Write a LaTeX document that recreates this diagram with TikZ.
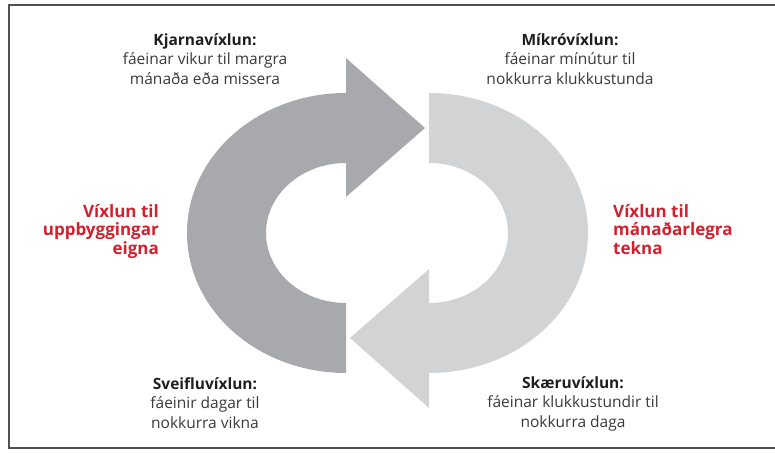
\documentclass[tikz,border=0pt]{standalone}
\usepackage{fontspec}
\setmainfont{Open Sans}
\definecolor{darkarrow}{HTML}{A7A9AC}
\definecolor{lightarrow}{HTML}{D1D3D4}
\definecolor{redtxt}{HTML}{D2202F}
\definecolor{bodytxt}{HTML}{3A3A3A}
\definecolor{headtxt}{HTML}{1E1E1E}
\definecolor{framecol}{HTML}{505050}
\tikzset{
  bodyblock/.style={inner sep=0pt, align=center, text=bodytxt,
    font=\fontsize{15.5}{19.5}\selectfont},
  redblock/.style={inner sep=0pt, text=redtxt,
    font=\fontsize{17}{18.5}\selectfont\bfseries},
}
\newcommand{\hd}[1]{\textcolor{headtxt}{\bfseries #1}}
\begin{document}
\begin{tikzpicture}[x=1pt,y=1pt]
\useasboundingbox (0,0) rectangle (775,454);
% frame (open on the right)
\draw[framecol, line width=2pt] (775,449) -- (8.5,449) -- (8.5,6) -- (775,6);
% dark arrow (left half, pointing right at the top)
\fill[darkarrow] (346,81) arc[start angle=270, end angle=90, x radius=159, y radius=140]
  -- (346,396) -- (425,326) -- (346,257) -- (346,291)
  arc[start angle=90, end angle=270, x radius=80, y radius=70] -- cycle;
% light arrow (right half, pointing left at the bottom)
\fill[lightarrow] (429,361) arc[start angle=90, end angle=-90, x radius=159, y radius=140]
  -- (429,46) -- (350,116) -- (429,185) -- (429,151)
  arc[start angle=-90, end angle=90, x radius=79, y radius=70] -- cycle;
% texts
\node[bodyblock, anchor=north] (kjarna) at (205,421) {\hd{Kjarnavíxlun:}\\fáeinar vikur til margra\\mánaða eða missera};
\node[bodyblock, anchor=north] (mikro) at (570,421) {\hd{Míkróvíxlun:}\\fáeinar mínútur til\\nokkurra klukkustunda};
\node[bodyblock, anchor=north] (sveiflu) at (205,77) {\hd{Sveifluvíxlun:}\\fáeinir dagar til\\nokkurra vikna};
\node[bodyblock, anchor=north] (skaeru) at (573,78) {\hd{Skæruvíxlun:}\\fáeinar klukkustundir til\\nokkurra daga};
\node[redblock, align=right, anchor=north east] (eigna) at (159,250) {Víxlun til\\uppbyggingar\\eigna};
\node[redblock, align=left, anchor=north west] (tekna) at (613,250) {Víxlun til\\mánaðarlegra\\tekna};
\end{tikzpicture}
\end{document}
